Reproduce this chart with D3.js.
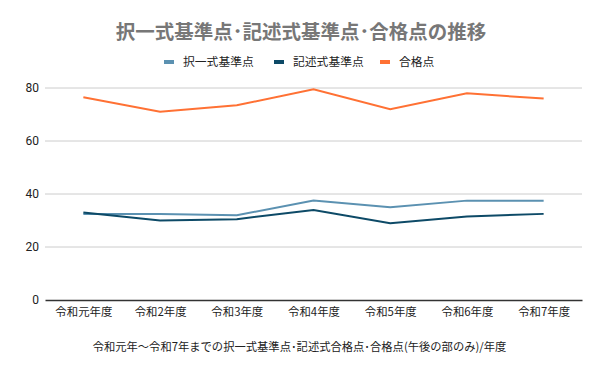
<!DOCTYPE html>
<html>
<head>
<meta charset="utf-8">
<script src="https://cdn.jsdelivr.net/npm/d3@7"></script>
<style>
  body { margin: 0; background: #fff; }
  text { font-family: "Noto Sans CJK JP", "Noto Sans", sans-serif; }
</style>
</head>
<body>
<div id="chart"></div>
<script>
// chart data
var years = ["令和元年度", "令和2年度", "令和3年度", "令和4年度", "令和5年度", "令和6年度", "令和7年度"];
var seriesNames = ["択一式基準点", "記述式基準点", "合格点"];
var takuitsu = [32.5, 32.5, 32, 37.5, 35, 37.5, 37.5];
var kijutsu = [33, 30, 30.5, 34, 29, 31.5, 32.5];
var goukaku = [76.5, 71, 73.5, 79.5, 72, 78, 76];
var yTicks = [0, 20, 40, 60, 80];
var colors = ["#5b91b1", "#0d4a67", "#ff7134"];

// svg size and margins
var svgWidth = 600;
var svgHeight = 371;
var margin = { top: 88, right: 18, bottom: 71, left: 45 };
var chartWidth = svgWidth - margin.left - margin.right;
var chartHeight = svgHeight - margin.top - margin.bottom;

var svg = d3.select("#chart")
    .append("svg")
    .attr("width", svgWidth)
    .attr("height", svgHeight);

// title
svg.append("text")
    .attr("x", svgWidth / 2 + 1)
    .attr("y", 39)
    .attr("text-anchor", "middle")
    .attr("fill", "#777777")
    .attr("font-size", "19.5px")
    .attr("font-weight", "bold")
    .text("択一式基準点･記述式基準点･合格点の推移");

// legend
var legendX = [164, 274, 380];
var legend = svg.append("g");
seriesNames.forEach(function(name, i) {
    legend.append("rect")
        .attr("x", legendX[i])
        .attr("y", 60)
        .attr("width", 10)
        .attr("height", 4)
        .attr("fill", colors[i]);
    legend.append("text")
        .attr("x", legendX[i] + 19)
        .attr("y", 66)
        .attr("font-size", "11.8px")
        .attr("fill", "#222")
        .text(name);
});

var chartGroup = svg.append("g")
    .attr("transform", `translate(${margin.left}, ${margin.top})`);

// scales
var xScale = d3.scalePoint()
    .domain(years)
    .range([0, chartWidth])
    .padding(0.5);

var yScale = d3.scaleLinear()
    .domain([0, 80])
    .range([chartHeight, 0]);

// gridlines
chartGroup.selectAll(".grid")
    .data(yTicks.filter(d => d > 0))
    .enter()
    .append("line")
    .attr("x1", 0)
    .attr("x2", chartWidth)
    .attr("y1", d => yScale(d))
    .attr("y2", d => yScale(d))
    .attr("stroke", "#cccccc")
    .attr("stroke-width", 1);

// y axis
var leftAxis = d3.axisLeft(yScale).tickValues(yTicks).tickSize(0).tickPadding(6);
var yAxis = chartGroup.append("g").call(leftAxis);
yAxis.select(".domain").remove();
yAxis.selectAll("text")
    .attr("font-size", "12px")
    .attr("fill", "#222")
    .style("font-family", "Roboto, sans-serif");

// x axis
var bottomAxis = d3.axisBottom(xScale).tickSize(0).tickPadding(8);
var xAxis = chartGroup.append("g")
    .attr("transform", `translate(0, ${chartHeight})`)
    .call(bottomAxis);
xAxis.select(".domain")
    .attr("stroke", "#333")
    .attr("stroke-width", 1.3);
xAxis.selectAll("text")
    .attr("font-size", "11.4px")
    .attr("fill", "#222")
    .style("font-family", "\"Noto Sans CJK JP\", sans-serif");

// x axis title
svg.append("text")
    .attr("x", margin.left + chartWidth / 2 - 14)
    .attr("y", 351)
    .attr("text-anchor", "middle")
    .attr("font-size", "11.3px")
    .attr("fill", "#222")
    .text("令和元年〜令和7年までの択一式基準点･記述式合格点･合格点(午後の部のみ)/年度");

// lines
var line = d3.line()
    .x((d, i) => xScale(years[i]))
    .y(d => yScale(d));

[takuitsu, kijutsu, goukaku].forEach(function(values, i) {
    chartGroup.append("path")
        .datum(values)
        .attr("d", line)
        .attr("fill", "none")
        .attr("stroke", colors[i])
        .attr("stroke-width", 2);
});
</script>
</body>
</html>
